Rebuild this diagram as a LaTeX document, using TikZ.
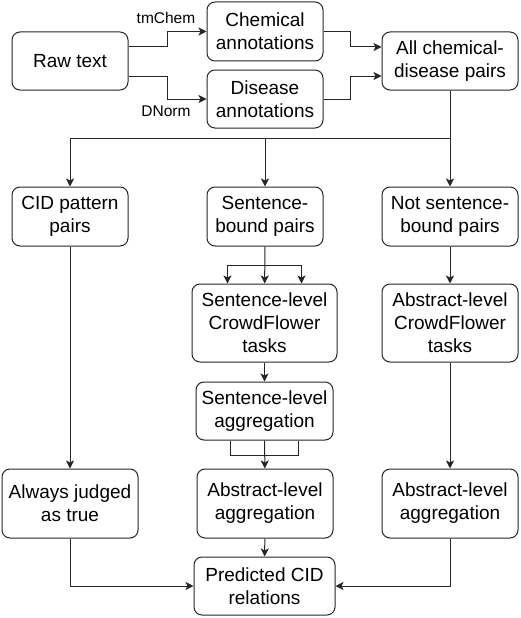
\documentclass[tikz,border=0pt]{standalone}
\usepackage{fontspec}
\setmainfont{Liberation Sans}
\usetikzlibrary{arrows.meta,positioning,calc}
\tikzset{
	box/.style = {draw, fill=white, rectangle, rounded corners=8pt, align=center, inner sep=0pt, font=\fontsize{19}{23}\selectfont},
	lbl/.style = {draw=none, font=\fontsize{15.5}{18}\selectfont},
	coord/.style = {coordinate}
}
\begin{document}
\begin{tikzpicture}[x=1pt, y=-1pt, >={Stealth[length=8pt,width=8pt,inset=2pt]}, line width=1pt, draw=black!85]
		\useasboundingbox (0,0) rectangle (520,618);
		% top row
		\node [box, minimum width=116pt, minimum height=58pt] (raw) at (70,61) {Raw text};
		\node [box, minimum width=116pt, minimum height=59pt] (chem) at (265,31.5) {Chemical\\annotations};
		\node [box, minimum width=116pt, minimum height=58pt] (dis) at (265,99) {Disease\\annotations};
		\node [box, minimum width=136pt, minimum height=58pt] (pairs) at (450,61) {All chemical-\\disease pairs};
		\node [lbl] (tmchem) at (166,18) {tmChem};
		\node [lbl] (dnorm) at (166,111) {DNorm};
		% second row
		\node [box, minimum width=116pt, minimum height=59pt] (cid) at (70,216.5) {CID pattern\\pairs};
		\node [box, minimum width=116pt, minimum height=59pt] (sent) at (265,216.5) {Sentence-\\bound pairs};
		\node [box, minimum width=136pt, minimum height=59pt] (notsent) at (450,216.5) {Not sentence-\\bound pairs};
		% crowdflower tasks
		\node [box, minimum width=145pt, minimum height=78pt] (sentcf) at (264.5,323) {Sentence-level\\CrowdFlower\\tasks};
		\node [box, minimum width=136pt, minimum height=78pt] (abscf) at (450,323) {Abstract-level\\CrowdFlower\\tasks};
		\node [box, minimum width=137pt, minimum height=58pt] (sentagg) at (264.5,411) {Sentence-level\\aggregation};
		% aggregation row
		\node [box, minimum width=136pt, minimum height=69pt] (always) at (70,503.5) {Always judged\\as true};
		\node [box, minimum width=136pt, minimum height=69pt] (absagg) at (265,503.5) {Abstract-level\\aggregation};
		\node [box, minimum width=136pt, minimum height=69pt] (absagg2) at (450,503.5) {Abstract-level\\aggregation};
		\node [box, minimum width=141pt, minimum height=58pt] (pred) at (264.5,586) {Predicted CID\\relations};
		\node [coord] (split) at (450,138) {};
		\node [coord] (fan) at (265,265) {};
		% connectors
		\draw [->] ([yshift=14pt]raw.east) -- ++(39,0) |- (chem.west);
		\draw [->] ([yshift=-15pt]raw.east) -- ++(39,0) |- (dis.west);
		\draw [->] (chem.east) -- ++(27,0) |- ([yshift=14pt]pairs.west);
		\draw [->] (dis.east) -- ++(27,0) |- ([yshift=-15pt]pairs.west);
		\draw [->] (pairs) -- (notsent);
		\draw [->] (split) -| (cid);
		\draw [->] (split -| sent) -- (sent);
		\draw [->] (sent) -- (sentcf);
		\draw [->] (fan) -| ([xshift=-37pt]sentcf.north);
		\draw [->] (fan) -| ([xshift=37pt]sentcf.north);
		\draw [->] (sentcf) -- (sentagg);
		\draw [-] ([xshift=-34pt]sentagg.south) -- ++(0,15) -| ([xshift=34pt]sentagg.south);
		\draw [->] (sentagg) -- (absagg);
		\draw [->] (notsent) -- (abscf);
		\draw [->] (abscf) -- (absagg2);
		\draw [->] (cid) -- (always);
		\draw [->] (always.south) |- (pred.west);
		\draw [->] (absagg2.south) |- (pred.east);
		\draw [->] (absagg) -- (pred);
\end{tikzpicture}
\end{document}
